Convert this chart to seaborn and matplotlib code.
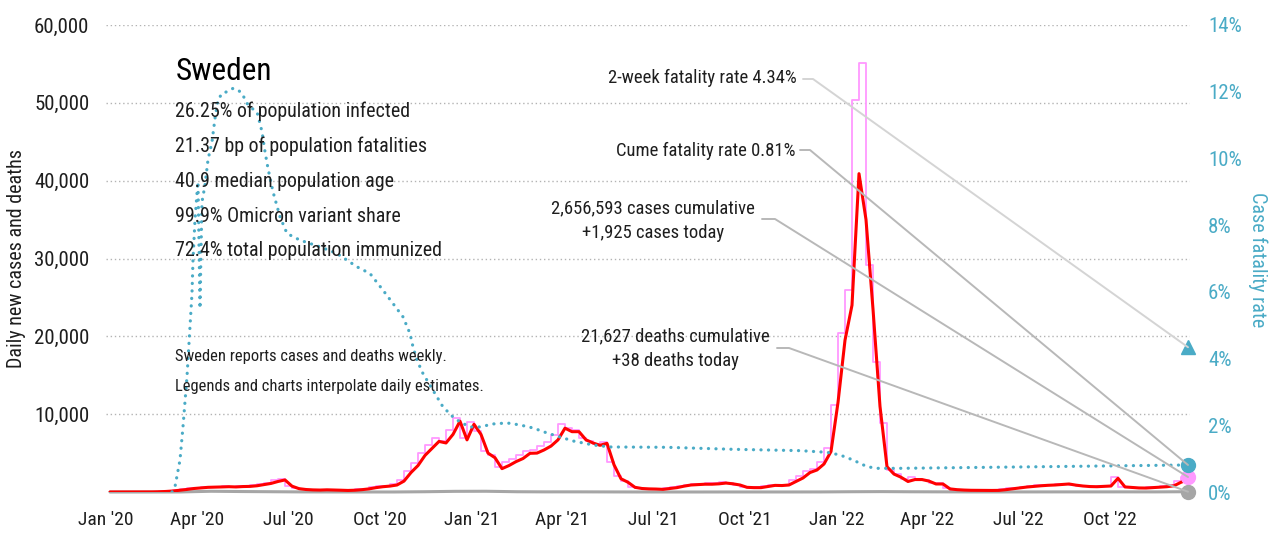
import matplotlib
matplotlib.use("Agg")
import matplotlib.pyplot as plt
import matplotlib.dates as mdates
from matplotlib import font_manager
from matplotlib.lines import Line2D
from matplotlib.ticker import FuncFormatter, FixedLocator
import seaborn as sns
import pandas as pd
import numpy as np

# ---------------------------------------------------------------- data
country = "Sweden"
week_start, week_end = "2020-01-05", "2022-12-18"

# 7-day average of new cases, one value per week
cases_avg = [
    0, 0, 0, 0, 0, 2, 10, 30, 70, 130,
    230, 330, 450, 530, 600, 620, 650, 680, 650, 700,
    720, 800, 950, 1100, 1350, 1550, 750, 430, 320, 270,
    250, 280, 260, 230, 200, 230, 300, 400, 560, 680,
    760, 900, 1400, 2500, 3400, 4700, 5600, 6500, 6300, 7400,
    9100, 6700, 8700, 7400, 5000, 4400, 3000, 3400, 3900, 4300,
    4970, 5000, 5400, 5900, 6700, 8200, 7750, 7750, 6700, 6300,
    6000, 6250, 3500, 1700, 1250, 600, 450, 400, 380, 340,
    450, 560, 750, 900, 950, 1000, 1000, 1050, 1150, 1050,
    900, 600, 560, 560, 700, 850, 830, 900, 1350, 1800,
    2500, 2830, 3600, 5200, 11500, 19500, 24000, 40900, 35000, 23500,
    11000, 3250, 2300, 1900, 1350, 1600, 1600, 1400, 1030, 1030,
    400, 300, 250, 220, 210, 200, 200, 210, 300, 420,
    530, 640, 720, 800, 860, 900, 960, 1030, 880, 770,
    700, 680, 720, 770, 1760, 650, 580, 520, 510, 560,
    620, 680, 800, 1250, 1600,
]

# daily new cases as reported (weekly level)
cases_daily = [
    0, 0, 0, 0, 0, 3, 12, 35, 80, 150,
    260, 360, 480, 560, 630, 650, 680, 710, 680, 730,
    760, 850, 1000, 1200, 1500, 1700, 800, 450, 340, 280,
    260, 290, 270, 240, 210, 250, 330, 430, 600, 720,
    800, 1000, 1600, 2700, 3700, 5000, 6000, 7000, 6600, 8000,
    9500, 7000, 9000, 7800, 5300, 4700, 3200, 3800, 4300, 4800,
    5300, 5400, 5900, 6400, 7300, 8700, 8200, 8000, 6900, 6600,
    6200, 6400, 3800, 2000, 1400, 650, 480, 420, 400, 360,
    480, 600, 800, 950, 1000, 1050, 1100, 1150, 1250, 1100,
    950, 650, 600, 600, 750, 900, 880, 950, 1500, 2000,
    2700, 3000, 3900, 5600, 11200, 20400, 26000, 50400, 55100, 29200,
    16700, 8900, 2800, 2300, 1700, 1900, 1700, 1500, 1100, 1100,
    450, 320, 270, 240, 220, 210, 210, 230, 330, 450,
    560, 680, 760, 840, 900, 950, 1000, 1080, 920, 800,
    730, 700, 750, 800, 1900, 700, 600, 540, 530, 580,
    650, 720, 850, 1350, 1925,
]

# daily deaths, monthly
deaths_dates = [
    "2020-01-05", "2020-02-15", "2020-03-15", "2020-04-15", "2020-05-15",
    "2020-06-15", "2020-07-15", "2020-08-15", "2020-09-15", "2020-10-15",
    "2020-11-15", "2020-12-15", "2021-01-15", "2021-02-15", "2021-03-15",
    "2021-04-15", "2021-05-15", "2021-06-15", "2021-07-15", "2021-08-15",
    "2021-09-15", "2021-10-15", "2021-11-15", "2021-12-15", "2022-01-15",
    "2022-02-15", "2022-03-15", "2022-04-15", "2022-05-15", "2022-06-15",
    "2022-07-15", "2022-08-15", "2022-09-15", "2022-10-15", "2022-11-15",
    "2022-12-18",
]
deaths_daily = [
    0, 0, 5, 95, 60, 35, 12, 4, 2, 4,
    35, 85, 95, 35, 18, 20, 12, 4, 1, 2,
    5, 5, 5, 10, 35, 50, 30, 20, 10, 8,
    12, 15, 15, 18, 15, 38,
]

# case fatality rate (%)
cfr_dates = [
    "2020-03-07", "2020-03-10", "2020-03-15", "2020-03-18", "2020-03-22",
    "2020-03-25", "2020-03-27", "2020-03-28", "2020-03-30", "2020-04-01",
    "2020-04-02", "2020-04-03", "2020-04-04", "2020-04-05", "2020-04-06",
    "2020-04-09", "2020-04-12", "2020-04-16", "2020-04-19", "2020-04-22",
    "2020-04-26", "2020-05-01", "2020-05-07", "2020-05-12", "2020-05-16",
    "2020-05-21", "2020-05-26", "2020-05-31", "2020-06-05", "2020-06-08",
    "2020-06-11", "2020-06-16", "2020-06-23", "2020-06-30", "2020-07-13",
    "2020-08-02", "2020-08-19", "2020-09-08", "2020-09-21", "2020-10-04",
    "2020-10-14", "2020-10-24", "2020-10-31", "2020-11-03", "2020-11-07",
    "2020-11-13", "2020-11-23", "2020-12-03", "2020-12-13", "2020-12-20",
    "2020-12-30", "2021-01-09", "2021-01-22", "2021-02-05", "2021-02-18",
    "2021-03-03", "2021-03-17", "2021-03-30", "2021-04-12", "2021-05-02",
    "2021-05-19", "2021-07-15", "2021-09-19", "2021-11-25", "2021-12-22",
    "2022-01-04", "2022-01-17", "2022-01-31", "2022-02-10", "2022-03-05",
    "2022-07-30", "2022-12-18",
]
cfr_pct = [
    0.0, 0.16, 0.96, 1.96, 3.46,
    4.96, 5.96, 6.96, 8.16, 8.96,
    9.3, 7.4, 5.5, 7.2, 8.7,
    9.2, 9.96, 10.5, 11.2, 11.75,
    11.95, 12.0, 12.1, 12.05, 11.95,
    11.65, 11.5, 11.4, 10.8, 10.2,
    9.7, 9.0, 8.25, 7.75, 7.55,
    7.35, 7.15, 6.75, 6.55, 6.05,
    5.65, 5.25, 4.75, 4.35, 3.95,
    3.55, 3.05, 2.55, 2.25, 2.1,
    1.95, 1.95, 2.04, 2.07, 2.01,
    1.92, 1.77, 1.65, 1.53, 1.41,
    1.35, 1.34, 1.28, 1.24, 1.19,
    1.11, 0.96, 0.76, 0.71, 0.71,
    0.76, 0.81,
]

stats_lines = [
    "26.25% of population infected",
    "21.37 bp of population fatalities",
    "40.9 median population age",
    "99.9% Omicron variant share",
    "72.4% total population immunized",
]
notes_lines = [
    "Sweden reports cases and deaths weekly.",
    "Legends and charts interpolate daily estimates.",
]
two_week_cfr = 4.34
cume_cfr = 0.81
cases_cumulative, cases_today = 2656593, 1925
deaths_cumulative, deaths_today = 21627, 38

left_ticks = [10000, 20000, 30000, 40000, 50000, 60000]
right_ticks = [0, 2, 4, 6, 8, 10, 12, 14]

# ---------------------------------------------------------------- style
sns.set_theme(style="white")


def pick_narrow_font():
    entries = font_manager.fontManager.ttflist
    names = {f.name for f in entries}
    for name in ["Liberation Sans Narrow", "Roboto Condensed", "Noto Sans Condensed",
                 "Open Sans Condensed", "Noto Sans SemiCondensed"]:
        if name in names:
            return name, "normal", 1.0
    for fam in ["Roboto", "Noto Sans", "Open Sans"]:
        for st in ["condensed", "semi-condensed"]:
            if any(f.name == fam and str(f.stretch) == st for f in entries):
                return fam, st, 1.0
    return "DejaVu Sans", "condensed", 0.87


FONT, STRETCH, SCALE = pick_narrow_font()
plt.rcParams["font.family"] = [FONT, "DejaVu Sans"]
plt.rcParams["font.stretch"] = STRETCH


def fs(size):
    return size * SCALE


TEAL = "#4aabc6"
PINK = "#ff99ff"
RED = "#ff0000"
GRAY = "#a6a6a6"
INK = "#1e1e1e"

weeks = pd.date_range(week_start, week_end, freq="7D")
cases_df = pd.DataFrame({"date": weeks, "avg": cases_avg, "daily": cases_daily})
deaths_df = pd.DataFrame({"date": pd.to_datetime(deaths_dates), "deaths": deaths_daily})
cfr_df = pd.DataFrame({"date": pd.to_datetime(cfr_dates), "cfr": cfr_pct})
last_day = cases_df["date"].iloc[-1]

W, H = 1278, 540
fig = plt.figure(figsize=(W / 100, H / 100), dpi=100)
ax = fig.add_axes([106 / W, 48 / H, 1084 / W, 467 / H])
ax2 = ax.twinx()


def px(x, y):
    return x / W, 1 - y / H


# ---------------------------------------------------------------- series
sns.lineplot(data=cases_df, x="date", y="daily", ax=ax, color=PINK, lw=1.3,
             drawstyle="steps-pre", errorbar=None, zorder=2)
sns.lineplot(data=deaths_df, x="date", y="deaths", ax=ax, color=GRAY, lw=2.2,
             errorbar=None, zorder=2, clip_on=False)
sns.lineplot(data=cases_df, x="date", y="avg", ax=ax, color=RED, lw=2.2,
             errorbar=None, zorder=3)
sns.lineplot(data=cfr_df, x="date", y="cfr", ax=ax2, color=TEAL, lw=2.3,
             linestyle=(0, (0.05, 2.3)), dash_capstyle="round",
             errorbar=None, zorder=3)

ax.set_xlim(pd.Timestamp("2020-01-01"), pd.Timestamp("2022-12-20"))
ax.set_ylim(0, 60000)
ax2.set_ylim(0, 14)

# end-of-series markers
ax2.plot([last_day], [two_week_cfr], marker="^", ms=10, color=TEAL, clip_on=False, zorder=6)
ax2.plot([last_day], [cume_cfr], marker="o", ms=10, color=TEAL, clip_on=False, zorder=6)
ax.plot([last_day], [cases_today], marker="o", ms=10, color=PINK, clip_on=False, zorder=6)
ax.plot([last_day], [deaths_today], marker="o", ms=10, color=GRAY, clip_on=False, zorder=6)

# ---------------------------------------------------------------- axes
for a in (ax, ax2):
    for s in a.spines.values():
        s.set_visible(False)
    a.set_xlabel("")
    a.set_ylabel("")

ax.yaxis.set_major_locator(FixedLocator(left_ticks))
ax.yaxis.set_major_formatter(FuncFormatter(lambda v, p: f"{int(v):,}"))
ax.yaxis.grid(True, linestyle=(0, (1, 2)), color="#b3b3b3", lw=1.0)
ax.xaxis.grid(False)
ax.xaxis.set_major_locator(mdates.MonthLocator(bymonth=[1, 4, 7, 10]))
ax.xaxis.set_major_formatter(mdates.DateFormatter("%b '%y"))
ax.tick_params(axis="x", length=0, pad=14, labelsize=fs(14), labelcolor=INK)
ax.tick_params(axis="y", length=0, pad=12, labelsize=fs(15), labelcolor=INK)

ax2.yaxis.set_major_locator(FixedLocator(right_ticks))
ax2.yaxis.set_major_formatter(FuncFormatter(lambda v, p: f"{v:.0f}%"))
ax2.grid(False)
ax2.tick_params(axis="y", length=0, pad=13, labelsize=fs(15), labelcolor=TEAL)

fig.text(*px(17, 258), "Daily new cases and deaths", rotation=90,
         ha="center", va="center", fontsize=fs(14.5), color=INK)
fig.text(*px(1258, 260), "Case fatality rate", rotation=-90,
         ha="center", va="center", fontsize=fs(14.5), color=TEAL)

# ---------------------------------------------------------------- text block
fig.text(*px(176, 72), country, fontsize=fs(22.5), color="black", va="center", ha="left")
for i, line in enumerate(stats_lines):
    fig.text(*px(175, 111 + 35 * i), line, fontsize=fs(14.4), color=INK,
             va="center", ha="left")
for i, line in enumerate(notes_lines):
    fig.text(*px(175, 357 + 29 * i), line, fontsize=fs(11.9), color=INK,
             va="center", ha="left")

# ---------------------------------------------------------------- callouts
fig.text(*px(797, 78), f"2-week fatality rate {two_week_cfr:.2f}%",
         fontsize=fs(13.4), color=INK, ha="right", va="center")
fig.text(*px(795, 151), f"Cume fatality rate {cume_cfr:.2f}%",
         fontsize=fs(13.4), color=INK, ha="right", va="center")
fig.text(*px(755, 221),
         f"{cases_cumulative:,} cases cumulative\n+{cases_today:,} cases today",
         fontsize=fs(13.4), color=INK, ha="right", va="center",
         multialignment="center", linespacing=1.45)
fig.text(*px(770, 349),
         f"{deaths_cumulative:,} deaths cumulative\n+{deaths_today:,} deaths today",
         fontsize=fs(13.4), color=INK, ha="right", va="center",
         multialignment="center", linespacing=1.45)

fig.canvas.draw()
to_fig = fig.transFigure.inverted()


def marker_fig(axis, y):
    disp = axis.transData.transform((mdates.date2num(last_day), y))
    return to_fig.transform(disp)


leaders = [
    ((803, 79), (813, 79), marker_fig(ax2, two_week_cfr), "#d4d4d4"),
    ((800, 150), (810, 150), marker_fig(ax2, cume_cfr), "#b8b8b8"),
    ((762, 219), (775, 219), marker_fig(ax, cases_today), "#b8b8b8"),
    ((777, 348), (789, 348), marker_fig(ax, deaths_today), "#b8b8b8"),
]
for start, elbow, end, col in leaders:
    s = px(*start)
    e = px(*elbow)
    fig.add_artist(Line2D([s[0], e[0], end[0]], [s[1], e[1], end[1]],
                          transform=fig.transFigure, color=col, lw=1.4, zorder=5))

fig.savefig("out.png", dpi=100)
